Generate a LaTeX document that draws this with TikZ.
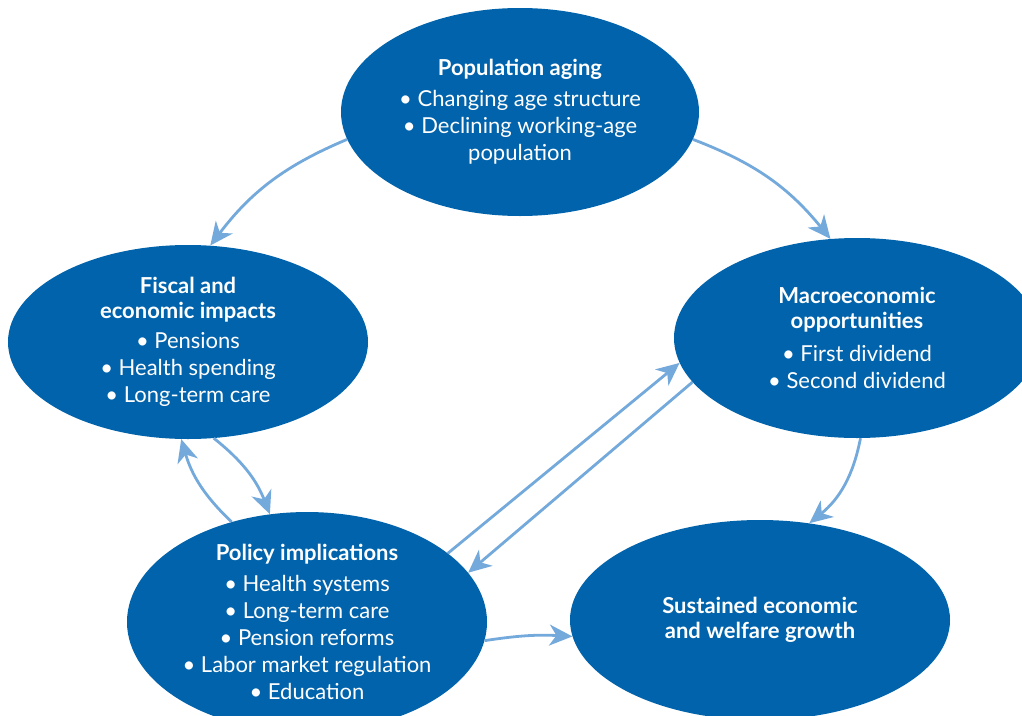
\documentclass[tikz,border=0pt]{standalone}
\usepackage{fontspec}
\setmainfont{Lato}
\usetikzlibrary{shapes.geometric,arrows.meta}
\definecolor{bubbleblue}{HTML}{0063AB}
\definecolor{arrowblue}{HTML}{74A9DB}
\tikzset{bubble/.style={ellipse, fill=bubbleblue, text=white, inner sep=0pt, align=center, font=\fontsize{22}{27}\selectfont}}
\tikzset{flowarrow/.style={-{Stealth[length=23pt,width=21pt,inset=7pt]}, draw=arrowblue, line width=2.8pt}}

\begin{document}
\begin{tikzpicture}[x=1pt, y=-1pt]
\clip (0,0) rectangle (1022,715);
\node[bubble, minimum width=358pt, minimum height=208pt] (aging) at (520,112) {\textbf{Population aging}\\[4pt] • Changing age structure\\ • Declining working-age\\ population};
\node[bubble, minimum width=360pt, minimum height=194pt] (fiscal) at (188,342) {\textbf{Fiscal and}\\[-2pt] \textbf{economic impacts}\\[3pt] • Pensions\\ • Health spending\\ • Long-term care};
\node[bubble, minimum width=366pt, minimum height=200pt] (macro) at (857,338) {\textbf{Macroeconomic}\\[-2pt] \textbf{opportunities}\\[6pt] • First dividend\\ • Second dividend};
\node[bubble, minimum width=360pt, minimum height=204pt] (policy) at (307,622) {\textbf{Policy implications}\\[4pt] • Health systems\\ • Long-term care\\ • Pension reforms\\ • Labor market regulation\\ • Education};
\node[bubble, minimum width=380pt, minimum height=200pt] (growth) at (760,620) {\textbf{Sustained economic}\\[-2pt] \textbf{and welfare growth}};
\draw[flowarrow] (aging.189) to[bend right=15] (fiscal.77);
\draw[flowarrow] (aging.351) to[bend left=15] (macro.105);
\draw[flowarrow] (macro.272) to[bend left=20] (growth.63);
\draw[flowarrow] (fiscal.285) to[bend left=15] (policy.109);
\draw[flowarrow] (policy.127) to[bend left=15] (fiscal.266);
\draw[flowarrow] (policy.26) -- (macro.188);
\draw[flowarrow] (macro.195) -- (policy.17);
\draw[flowarrow] (policy.354) to[bend left=6] (growth.185);
\end{tikzpicture}
\end{document}
